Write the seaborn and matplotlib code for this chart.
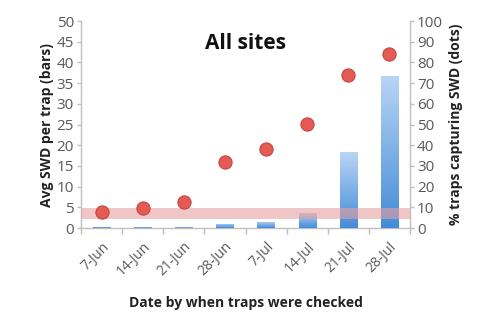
import numpy as np
import pandas as pd
import matplotlib
matplotlib.use("Agg")
import matplotlib.pyplot as plt
import seaborn as sns
from matplotlib.colors import LinearSegmentedColormap

dates = ["7-Jun", "14-Jun", "21-Jun", "28-Jun", "7-Jul", "14-Jul", "21-Jul", "28-Jul"]
avg_swd = [0.3, 0.3, 0.2, 1.0, 1.5, 3.7, 18.3, 36.8]
pct_traps = [8, 9.5, 12.5, 32, 38, 50.5, 74, 84]
band_low, band_high = 2.1, 4.8

sns.set_theme(style="white")
plt.rcParams['font.family'] = ['Open Sans', 'DejaVu Sans']

df = pd.DataFrame({"date": dates, "avg": avg_swd, "pct": pct_traps})

fig = plt.figure(figsize=(5, 3.34), dpi=100)
ax = fig.add_axes([0.162, 0.317, 0.658, 0.62])
ax2 = ax.twinx()

sns.barplot(data=df, x="date", y="avg", ax=ax, color="#5b9bd5", width=0.42, zorder=2)
cmap = LinearSegmentedColormap.from_list("g", ["#3a86d6", "#b5d3f5"])
grad = np.linspace(0, 1, 100).reshape(-1, 1)
for p in list(ax.patches):
    x0, y0 = p.get_x(), p.get_y()
    w, h = p.get_width(), p.get_height()
    im = ax.imshow(grad, cmap=cmap, extent=[x0, x0 + w, y0, y0 + h], origin="lower",
                   aspect="auto", zorder=3, alpha=0.95)
    im.set_clip_path(p)
    p.set_alpha(0.0)

ax.axhspan(band_low, band_high, color="#e8a0a0", alpha=0.6, lw=0, zorder=4)

ax.set_xlim(-0.5, 7.5)
ax.set_ylim(0, 50)
ax.set_yticks(range(0, 51, 5))
ax.set_aspect("auto")

sns.scatterplot(data=df, x="date", y="pct", ax=ax2, s=90, color="#e65a54",
                edgecolor="#c4443f", linewidth=0.8, zorder=5)
ax2.set_ylim(0, 100)
ax2.set_yticks(range(0, 101, 10))
ax2.set_xlim(-0.5, 7.5)

grey = "#595959"
for a in (ax, ax2):
    for s in a.spines.values():
        s.set_visible(False)
ax.spines["left"].set_visible(True)
ax.spines["bottom"].set_visible(True)
ax2.spines["right"].set_visible(True)
for s in (ax.spines["left"], ax.spines["bottom"], ax2.spines["right"]):
    s.set_color("#bfbfbf")
    s.set_linewidth(1.0)

ax.tick_params(axis="y", colors=grey, labelsize=11, length=3, width=1, color="#bfbfbf", pad=2, left=True)
ax2.tick_params(axis="y", colors=grey, labelsize=11, length=3, width=1, color="#bfbfbf", pad=2, right=True)
ax.set_xticks(range(len(dates)))
ax.set_xticklabels(dates, rotation=45, ha="right", rotation_mode="anchor", fontsize=10, color=grey)
ax.tick_params(axis="x", length=0, pad=8)
ax.set_xticks(np.arange(-0.5, 7.6, 1), minor=True)
ax.tick_params(axis="x", which="minor", length=4, width=1, color="#bfbfbf", bottom=True)

ax.set_xlabel("Date by when traps were checked", fontsize=10, fontweight="bold", color="#222222", labelpad=12)
ax.set_ylabel("Avg SWD per trap (bars)", fontsize=10, fontweight="bold", color="#222222", labelpad=2)
ax2.set_ylabel("% traps capturing SWD (dots)", fontsize=10, fontweight="bold", color="#222222", labelpad=4)
ax2.set_xlabel("")

ax.text(0.5, 0.89, "All sites", transform=ax.transAxes, ha="center", va="center",
        fontsize=15, fontweight="bold", color="#111111")

fig.savefig("out.png", dpi=100)
